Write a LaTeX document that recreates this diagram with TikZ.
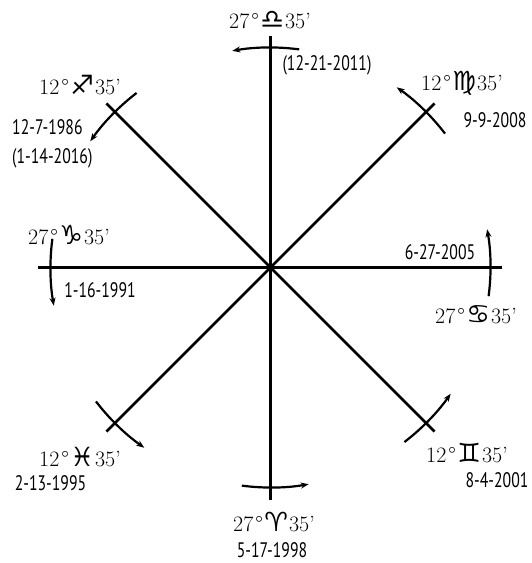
\documentclass[tikz,border=0pt]{standalone}
\usepackage{fontspec}
\usepackage{tikz}
\usetikzlibrary{arrows.meta}
\newfontfamily\zodfont[Scale=1.2]{DejaVu Sans}
\newfontfamily\datefont[FakeStretch=0.75]{PT Sans}
\newcommand{\signpos}[3]{#1\kern2pt°\kern1.5pt{\zodfont #2}\kern1pt#3’}

\begin{document}
\begin{tikzpicture}[x=1pt,y=1pt,
    axis/.style={line width=2.8pt},
    turn/.style={line width=2.2pt,-{Stealth[length=8pt,width=6pt]}},
    sign/.style={font=\fontsize{22}{26}\selectfont,inner sep=0pt},
    date/.style={font=\fontsize{21}{25}\selectfont\datefont,inner sep=0pt}]
    \useasboundingbox (-270.5,-295.5) rectangle (261.5,267.5);
    \coordinate (O) at (0,0);
    \foreach \a in {0,45,...,315}
        \coordinate (end\a) at (\a:232);
    \foreach \a in {0,45,90,135}{
        \pgfmathtruncatemacro\b{\a+180}
        \draw[axis] (end\a) -- (O) -- (end\b);
    }
    \foreach \a in {0,45,...,315}
        \draw[turn] (\a-7.5:220) arc[start angle=\a-7.5,end angle=\a+10,radius=220];
    \node[sign] (libra) at (-0.5,247.5) {\signpos{27}{♎}{35}};
    \node[date] (d2011) at (56.5,202.5) {(12-21-2011)};
    \node[sign] (sagittarius) at (-190.5,182.5) {\signpos{12}{♐}{35}};
    \node[date,anchor=west] (d1986) at (-258.5,140.5) {12-7-1986};
    \node[date,anchor=west] (d2016) at (-258.5,109.5) {(1-14-2016)};
    \node[sign] (virgo) at (191.5,184.5) {\signpos{12}{♍}{35}};
    \node[date] (d2008) at (224.5,147.5) {9-9-2008};
    \node[sign] (capricorn) at (-201.5,32.5) {\signpos{27}{♑}{35}};
    \node[date] (d1991) at (-170.5,-22.5) {1-16-1991};
    \node[date] (d2005) at (169.5,15.5) {6-27-2005};
    \node[sign] (cancer) at (205.5,-47.5) {\signpos{27}{♋}{35}};
    \node[sign] (pisces) at (-190.5,-189.5) {\signpos{12}{♓}{35}};
    \node[date] (d1995) at (-220,-215.5) {2-13-1995};
    \node[sign] (aries) at (3.5,-254.5) {\signpos{27}{♈}{35}};
    \node[date] (d1998) at (1.5,-282.5) {5-17-1998};
    \node[sign] (gemini) at (196.5,-185.5) {\signpos{12}{♊}{35}};
    \node[date] (d2001) at (226.5,-212.5) {8-4-2001};
\end{tikzpicture}
\end{document}
